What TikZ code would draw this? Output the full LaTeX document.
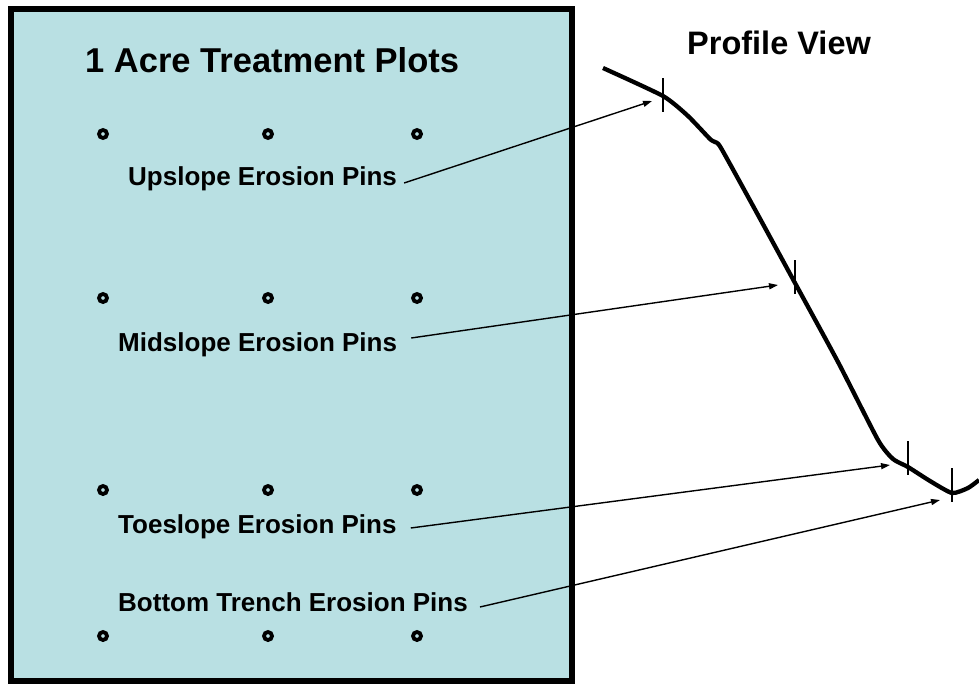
\documentclass[tikz,border=0pt]{standalone}
\usepackage{fontspec}
\setmainfont{Liberation Sans}
\usepackage{xcolor}
\usetikzlibrary{positioning,arrows.meta}
\definecolor{plotblue}{RGB}{185,224,227}

\begin{document}
\begin{tikzpicture}[x=1pt, y=-1pt, >={Triangle[length=9pt,width=6pt]},
		lbl/.style={anchor=base west, inner sep=0pt, font=\fontsize{26}{30}\selectfont\bfseries},
		ttl/.style={anchor=base west, inner sep=0pt, font=\fontsize{34.5}{40}\selectfont\bfseries},
		pin/.style={circle, draw, line width=3.8pt, fill=plotblue, minimum size=8pt, inner sep=0pt},
		tickline/.style={line width=2.8pt},
		pointer/.style={->, line width=1.4pt}]
		\useasboundingbox (0,0) rectangle (979,685);

		% plot area
		\draw[line width=6pt, fill=plotblue] (11,9) rectangle (572,681);
		\node[ttl] (plots) at (85,73) {1 Acre Treatment Plots};
		\node[ttl, font=\fontsize{32.5}{38}\selectfont\bfseries] (view) at (687,55) {Profile View};

		\node[pin] (u1) at (103,134) {};
		\node[pin] (u2) at (268,134) {};
		\node[pin] (u3) at (417,134) {};
		\node[pin] (m1) at (103,298) {};
		\node[pin] (m2) at (268,298) {};
		\node[pin] (m3) at (417,298) {};
		\node[pin] (t1) at (103,490) {};
		\node[pin] (t2) at (268,490) {};
		\node[pin] (t3) at (417,490) {};
		\node[pin] (b1) at (103,636) {};
		\node[pin] (b2) at (268,636) {};
		\node[pin] (b3) at (417,636) {};

		\node[lbl] (up) at (128,185) {Upslope Erosion Pins};
		\node[lbl] (mid) at (118,351) {Midslope Erosion Pins};
		\node[lbl] (toe) at (118,533) {Toeslope Erosion Pins};
		\node[lbl] (bot) at (118,611) {Bottom Trench Erosion Pins};

		% profile
		\draw[line width=4.3pt, line join=round] plot[smooth, tension=0.35] coordinates {(603,68) (663,96) (688,116) (710,139) (715,142) (721,148) (758,215) (795,283) (838,362) (878,440) (893,459) (908,467) (930,481) (952,493) (968,488) (979,480)};

		\coordinate (upT) at (663,95);
		\coordinate (midT) at (795,277);
		\coordinate (toeT) at (908,458);
		\coordinate (botT) at (952,485);
		\draw[tickline] ([yshift=17pt]upT) -- ([yshift=-17pt]upT);
		\draw[tickline] ([yshift=17pt]midT) -- ([yshift=-17pt]midT);
		\draw[tickline] ([yshift=17pt]toeT) -- ([yshift=-17pt]toeT);
		\draw[tickline] ([yshift=17pt]botT) -- ([yshift=-17pt]botT);

		\coordinate (upA) at (652,101);
		\coordinate (midA) at (778,285);
		\coordinate (toeA) at (890,465);
		\coordinate (botA) at (940,500);

		\draw[pointer] ([shift={(7,-2)}]up.base east) -- (upA);
		\draw[pointer] ([shift={(14,-13)}]mid.base east) -- (midA);
		\draw[pointer] ([shift={(14,-5)}]toe.base east) -- (toeA);
		\draw[pointer] ([shift={(12,-4)}]bot.base east) -- (botA);
	\end{tikzpicture}
\end{document}
